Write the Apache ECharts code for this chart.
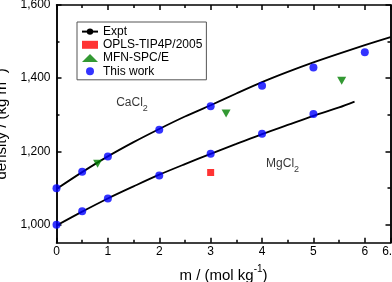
<!DOCTYPE html>
<html><head><meta charset="utf-8">
<script src="https://cdn.jsdelivr.net/npm/echarts@6/dist/echarts.min.js"></script>
<style>html,body{margin:0;padding:0;background:#fff}#c{width:392px;height:282px}</style>
</head><body><div id="c"></div>
<script>
// Experimental curves
const exptCaX = [0, 0.5, 1, 1.5, 2, 2.5, 3, 3.5, 4, 4.5, 5, 5.5, 6, 6.5];
const exptCaY = [1097, 1143, 1186, 1225, 1261, 1295, 1326, 1358, 1389, 1417, 1443, 1467, 1490, 1512];
const exptMgX = [0, 0.5, 1, 1.5, 2, 2.5, 3, 3.5, 4, 4.5, 5, 5.5, 5.8];
const exptMgY = [997, 1035, 1071, 1104, 1136, 1165, 1193, 1220, 1247, 1272, 1297, 1320, 1336];
// This work
const workCaX = [0, 0.5, 1, 2, 3, 4, 5, 6];
const workCaY = [1099, 1144, 1186, 1259, 1323, 1379, 1429, 1471];
const workMgX = [0, 0.5, 1, 2, 3, 4, 5];
const workMgY = [999, 1036, 1071, 1134, 1193, 1248, 1302];
// Other models
const oplsX = [3];
const oplsY = [1142];
const mfnX = [0.8, 3.3, 5.55];
const mfnY = [1166, 1303, 1393];
// Ticks
const yMajor = [1000, 1200, 1400, 1600];
const yMinor = [1100, 1300, 1500];
// Annotations
const annoText = ['CaCl', 'MgCl'];
const annoX = [1.47, 4.4];
const annoY = [1332, 1166];

const zip = (a, b) => a.map((v, i) => [v, b[i]]);
const FONT = '"Liberation Sans", Arial, Helvetica, sans-serif';
const AX = { color: '#000', width: 1.5 };

function yAx(pos, ticks, len, labels) {
  return {
    type: 'value', min: 950, max: 1600, position: pos,
    axisLine: { show: true, lineStyle: AX },
    axisTick: { show: true, inside: true, length: len, customValues: ticks, lineStyle: AX },
    axisLabel: labels ? { show: true, customValues: ticks, margin: 6, color: '#000', fontSize: 12, fontFamily: FONT } : { show: false },
    splitLine: { show: false },
    minorTick: { show: false }
  };
}
function xAx(pos, labels) {
  return {
    type: 'value', min: 0, max: 6.5, interval: 1, position: pos,
    axisLine: { show: true, lineStyle: AX },
    axisTick: { show: true, inside: true, length: 5, lineStyle: AX },
    minorTick: { show: true, splitNumber: 2, length: 3, lineStyle: AX },
    axisLabel: labels ? { show: true, margin: 3, color: '#000', fontSize: 12, fontFamily: FONT } : { show: false },
    splitLine: { show: false }
  };
}

const xa0 = xAx('bottom', true);
xa0.name = '{a|m / (mol kg}{p|-1}{a|)}';
xa0.nameLocation = 'middle';
xa0.nameGap = 22;
xa0.nameTextStyle = {
  fontFamily: FONT,
  rich: {
    a: { fontSize: 15, fontFamily: FONT, color: '#000', lineHeight: 22, verticalAlign: 'middle' },
    p: { fontSize: 10, fontFamily: FONT, color: '#000', lineHeight: 10, verticalAlign: 'top' }
  }
};
const ya0 = yAx('left', yMajor, 5, true);
ya0.name = '{a|density / (kg m}{p|-3}{a|)}';
ya0.nameLocation = 'middle';
ya0.nameRotate = 90;
ya0.nameGap = 37;
ya0.nameTextStyle = {
  fontFamily: FONT,
  rich: {
    a: { fontSize: 15, fontFamily: FONT, color: '#000', lineHeight: 22, verticalAlign: 'middle' },
    p: { fontSize: 10, fontFamily: FONT, color: '#000', lineHeight: 10, verticalAlign: 'top' }
  }
};

const chart = echarts.init(document.getElementById('c'), null, { renderer: 'canvas' });
chart.setOption({
  animation: false,
  backgroundColor: '#fff',
  textStyle: { fontFamily: FONT },
  grid: { left: 56.5, right: 1.5, top: 5, bottom: 39.3, outerBoundsMode: 'none', containLabel: false },
  xAxis: [xa0, xAx('top', false)],
  yAxis: [ya0, yAx('left', yMinor, 3, false), yAx('right', yMajor, 5, false), yAx('right', yMinor, 3, false)],
  legend: {
    show: true, orient: 'vertical', left: 77, top: 22,
    padding: [3, 4, 2, 4],
    itemWidth: 16, itemHeight: 8, itemGap: 0,
    borderColor: '#555', borderWidth: 1, backgroundColor: '#fff',
    textStyle: { fontSize: 12, fontFamily: FONT, color: '#000', lineHeight: 13.2 },
    data: ['Expt', 'OPLS-TIP4P/2005', 'MFN-SPC/E', 'This work']
  },
  series: [
    { name: 'Expt', type: 'line', data: zip(exptCaX, exptCaY), smooth: 0.3, symbol: 'none', showSymbol: false,
      lineStyle: { color: '#000', width: 1.8 }, itemStyle: { color: '#000' }, z: 2 },
    { name: 'Expt', type: 'line', data: zip(exptMgX, exptMgY), smooth: 0.3, symbol: 'none', showSymbol: false,
      lineStyle: { color: '#000', width: 1.8 }, itemStyle: { color: '#000' }, z: 2 },
    { name: 'OPLS-TIP4P/2005', type: 'scatter', data: zip(oplsX, oplsY), symbol: 'rect', symbolSize: 7,
      itemStyle: { color: '#ff0000' }, z: 3 },
    { name: 'MFN-SPC/E', type: 'scatter', data: zip(mfnX, mfnY), symbol: 'triangle', symbolRotate: 180, symbolSize: [9, 8],
      itemStyle: { color: '#008000' }, z: 3 },
    { name: 'This work', type: 'scatter', data: zip(workCaX, workCaY), symbol: 'circle', symbolSize: 8,
      itemStyle: { color: '#0000ff' }, z: 4 },
    { name: 'This work', type: 'scatter', data: zip(workMgX, workMgY), symbol: 'circle', symbolSize: 8,
      itemStyle: { color: '#0000ff' }, z: 4 },
    { name: 'anno', type: 'scatter', symbolSize: 0, silent: true, legendHoverLink: false,
      data: annoText.map((t, i) => ({ value: [annoX[i], annoY[i]], name: t })),
      label: { show: true, position: 'inside',
        formatter: p => '{a|' + p.name + '}{s|2}',
        rich: {
          a: { fontSize: 12, fontFamily: FONT, color: '#000', lineHeight: 20, verticalAlign: 'middle' },
          s: { fontSize: 9, fontFamily: FONT, color: '#000', lineHeight: 9, verticalAlign: 'bottom' }
        } } }
  ]
});
</script></body></html>
